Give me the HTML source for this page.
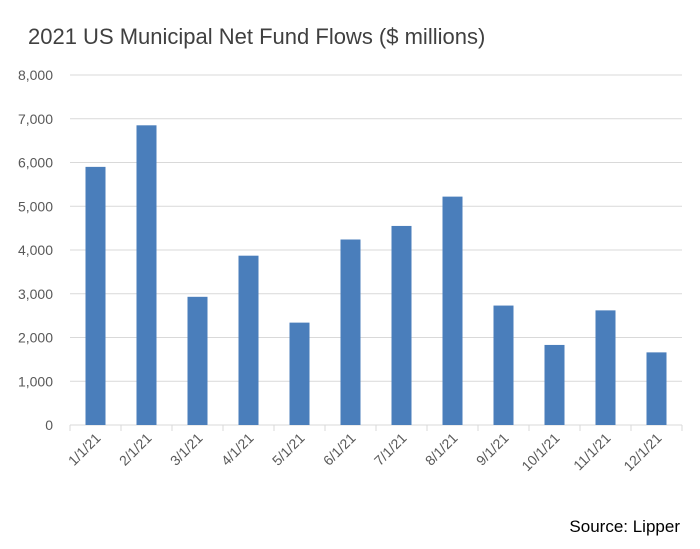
<!DOCTYPE html>
<html><head><meta charset="utf-8"><style>
body{margin:0;background:#fff;}
svg{display:block;font-family:"Liberation Sans",Calibri,sans-serif;}
</style></head><body>
<svg width="700" height="549" id="c">
<text x="28" y="44" font-size="22" fill="#404040">2021 US Municipal Net Fund Flows ($ millions)</text>
<text x="680" y="532" font-size="17" fill="#000" text-anchor="end">Source: Lipper</text>
</svg>
<script>
const categories=["1/1/21","2/1/21","3/1/21","4/1/21","5/1/21","6/1/21","7/1/21","8/1/21","9/1/21","10/1/21","11/1/21","12/1/21"];
const values=[5900,6850,2930,3870,2340,4240,4550,5220,2730,1830,2620,1660];
const yTicks=[0,1000,2000,3000,4000,5000,6000,7000,8000];
const yTickLabels=["0","1,000","2,000","3,000","4,000","5,000","6,000","7,000","8,000"];
const svg=document.getElementById('c');const NS='http://www.w3.org/2000/svg';
const L=70,R=682,T=75,B=425,yMax=8000;
const y=v=>B-(v/yMax)*(B-T);
const step=(R-L)/categories.length;
const x=i=>L+step*i+step/2;
function mk(t,a){const e=document.createElementNS(NS,t);for(const k in a)e.setAttribute(k,a[k]);svg.appendChild(e);return e;}
yTicks.forEach((v,i)=>{
 if(v>0){const g=mk('line',{x1:L,x2:R,y1:y(v),y2:y(v),stroke:'#d9d9d9','stroke-width':1});
 
 }
 const t=mk('text',{x:L-17,y:y(v)+5,'font-size':14,fill:'#595959','text-anchor':'end'});t.textContent=yTickLabels[i];
 
 
});
const ax=mk('line',{x1:L,x2:R,y1:B,y2:B,stroke:'#d9d9d9','stroke-width':1});


for(let i=0;i<=categories.length;i++){const tk=mk('line',{x1:L+step*i,x2:L+step*i,y1:B,y2:B+6,stroke:'#d9d9d9'});

}
categories.forEach((c,i)=>{
 const r=mk('rect',{x:x(i)-10,y:y(values[i]),width:20,height:B-y(values[i]),fill:'#4a7ebb'});
 
 
 const t=mk('text',{x:x(i)+6,y:B+14,'font-size':14,fill:'#595959','text-anchor':'end',transform:`rotate(-45 ${x(i)+6} ${B+14})`});
 t.textContent=c;
 
 
});
</script>
</body></html>
